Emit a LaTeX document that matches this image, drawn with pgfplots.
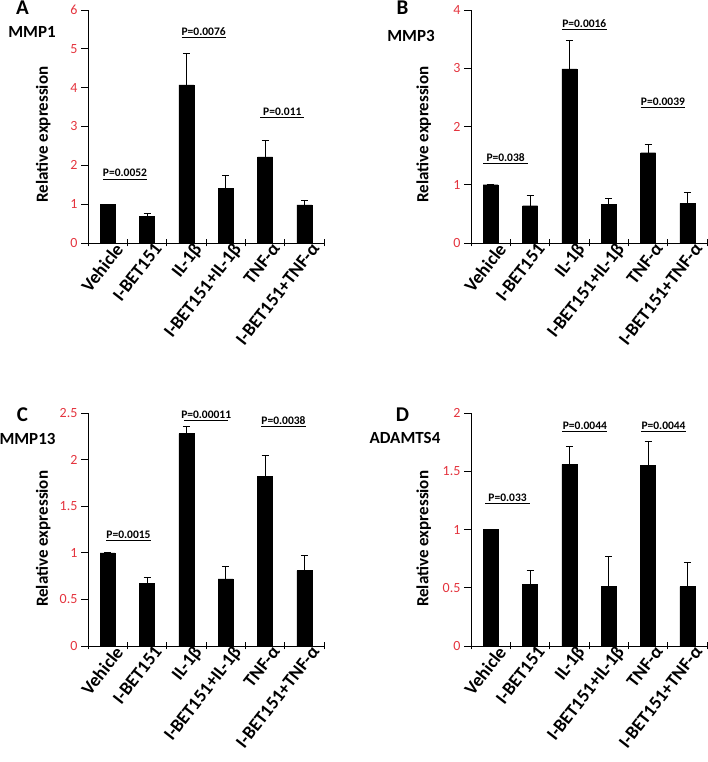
\documentclass[border=0pt]{standalone}
\usepackage{pgfplots}
\pgfplotsset{compat=1.18}
\usepackage{fontspec}
\setmainfont{Carlito}
\definecolor{ticklab}{RGB}{228,52,62}

\pgfplotsset{
 panel/.style={
  scale only axis, width=236pt, height=233pt, anchor=south west,
  xmin=0, xmax=6, ymin=0, clip=false,
  axis lines*=left,
  axis line style={line width=0.8pt},
  xtick={0,...,6}, xticklabels={},
  xtick align=center, ytick align=outside,
  major tick length=7pt,
  tick style={line width=0.8pt, black},
  extra x ticks={0.5,1.5,2.5,3.5,4.5,5.5},
  extra x tick labels={Vehicle,I-BET151,IL-1β,I-BET151+IL-1β,TNF-α,I-BET151+TNF-α},
  extra x tick style={major tick length=0pt,
    xticklabel style={rotate=52, anchor=north east, inner sep=0pt,
      xshift=5pt, yshift=-4pt,
      font=\fontsize{18.5}{20}\selectfont\bfseries}},
  yticklabel style={font=\fontsize{14}{16}\selectfont, color=ticklab},
  /pgf/number format/assume math mode=true,
 },
 bars/.style={ybar, bar width=15pt, fill=black, draw=black,
   error bars/.cd, y dir=plus, y explicit,
   error bar style={line width=0.8pt, black},
   error mark options={rotate=90, mark size=3.5pt, line width=0.8pt, black}},
}
\tikzset{
 pline/.style={line width=0.8pt},
 ptext/.style={midway, above, inner sep=1.5pt, font=\fontsize{11.5}{13}\selectfont\bfseries},
 ylab/.style={rotate=90, inner sep=0pt, font=\fontsize{17}{19}\selectfont\bfseries},
}

\begin{document}
\begin{tikzpicture}
\useasboundingbox (0,0) rectangle (708pt,762pt);

% A  MMP1
\begin{axis}[panel, at={(88pt,519pt)}, ymax=6, ytick distance=1]
\addplot[bars] table[x=x, y=y, y error=e] {
x y e
0.5 1.00 0
1.5 0.69 0.08
2.5 4.07 0.80
3.5 1.41 0.33
4.5 2.22 0.42
5.5 0.98 0.12
};
\draw[pline] (0.38,1.65) -- (1.5,1.65) node[ptext] {P=0.0052};
\draw[pline] (2.38,5.3) -- (3.5,5.3) node[ptext] {P=0.0076};
\draw[pline] (4.38,3.24) -- (5.5,3.24) node[ptext] {P=0.011};
\node[ylab] at (rel axis cs:-0.19,0.465) {Relative expression};
\end{axis}

% B  MMP3
\begin{axis}[panel, at={(471pt,519pt)}, ymax=4, ytick distance=1]
\addplot[bars] table[x=x, y=y, y error=e] {
x y e
0.5 1.00 0
1.5 0.64 0.17
2.5 2.99 0.48
3.5 0.66 0.11
4.5 1.55 0.14
5.5 0.68 0.18
};
\draw[pline] (0.31,1.37) -- (1.45,1.37) node[ptext] {P=0.038};
\draw[pline] (2.31,3.67) -- (3.45,3.67) node[ptext] {P=0.0016};
\draw[pline] (4.31,2.33) -- (5.45,2.33) node[ptext] {P=0.0039};
\node[ylab] at (rel axis cs:-0.2,0.465) {Relative expression};
\end{axis}

% C  MMP13
\begin{axis}[panel, at={(88pt,116pt)}, ymax=2.5, ytick distance=0.5]
\addplot[bars] table[x=x, y=y, y error=e] {
x y e
0.5 1.00 0
1.5 0.67 0.07
2.5 2.28 0.08
3.5 0.72 0.13
4.5 1.82 0.22
5.5 0.81 0.16
};
\draw[pline] (0.46,1.13) -- (1.6,1.13) node[ptext] {P=0.0015};
\draw[pline] (2.45,2.42) -- (3.56,2.42) node[ptext] {P=0.00011};
\draw[pline] (4.4,2.36) -- (5.54,2.36) node[ptext] {P=0.0038};
\node[ylab] at (rel axis cs:-0.19,0.46) {Relative expression};
\end{axis}

% D  ADAMTS4
\begin{axis}[panel, at={(471pt,116pt)}, ymax=2, ytick distance=0.5]
\addplot[bars] table[x=x, y=y, y error=e] {
x y e
0.5 1.00 0
1.5 0.53 0.12
2.5 1.56 0.15
3.5 0.51 0.26
4.5 1.55 0.21
5.5 0.51 0.21
};
\draw[pline] (0.36,1.22) -- (1.5,1.22) node[ptext] {P=0.033};
\draw[pline] (2.32,1.84) -- (3.47,1.84) node[ptext] {P=0.0044};
\draw[pline] (4.33,1.84) -- (5.46,1.84) node[ptext] {P=0.0044};
\node[ylab] at (rel axis cs:-0.2,0.46) {Relative expression};
\end{axis}

\begin{scope}[every node/.style={inner sep=0pt}]
\node[font=\fontsize{21}{23}\selectfont\bfseries] at (22.5pt,754.5pt) {A};
\node[font=\fontsize{17}{19}\selectfont\bfseries] at (32pt,730pt) {MMP1};
\node[font=\fontsize{21}{23}\selectfont\bfseries] at (402.5pt,754.5pt) {B};
\node[font=\fontsize{17}{19}\selectfont\bfseries] at (411pt,726pt) {MMP3};
\node[font=\fontsize{21}{23}\selectfont\bfseries] at (22.5pt,347.5pt) {C};
\node[font=\fontsize{17}{19}\selectfont\bfseries] at (27.5pt,323pt) {MMP13};
\node[font=\fontsize{21}{23}\selectfont\bfseries] at (402.5pt,347pt) {D};
\node[font=\fontsize{17}{19}\selectfont\bfseries] at (405pt,324pt) {ADAMTS4};
\end{scope}
\end{tikzpicture}
\end{document}
